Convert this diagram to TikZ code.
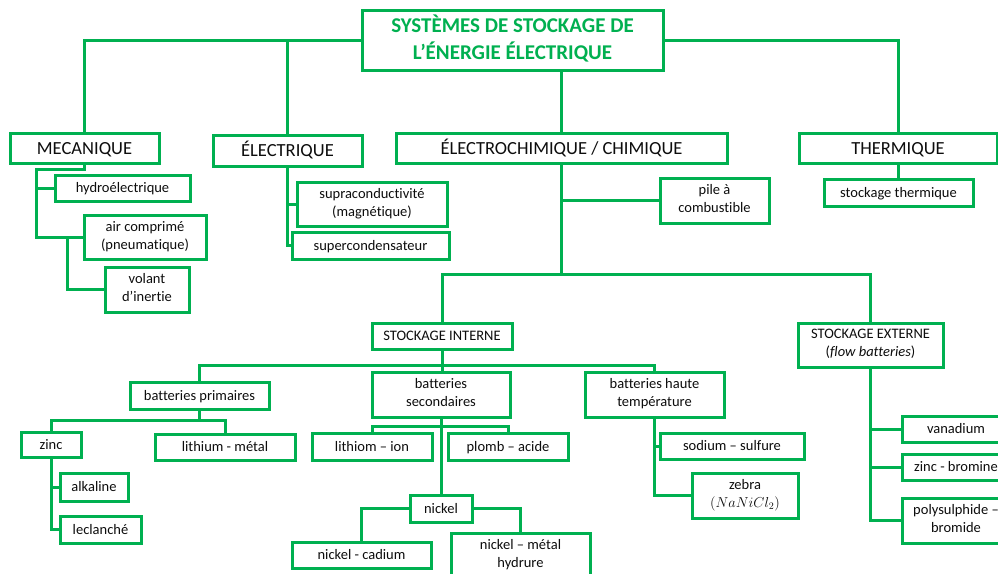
\documentclass[tikz,border=0pt]{standalone}
\usepackage{fontspec}
\setmainfont{Carlito}[RawFeature={-liga;-clig;-dlig}]
\usetikzlibrary{backgrounds}
\definecolor{gr}{HTML}{00B050}
\definecolor{tx}{HTML}{0D0D0D}
\newcommand\boxstrut{\vrule width 0pt height .95em depth .27em\relax}
\tikzset{
  lnk/.style={draw=gr, line width=3pt},
  box/.style={draw=gr, line width=3pt, fill=white, inner sep=0pt, align=center, text=tx,
    font=\fontsize{14.5}{18}\selectfont,
    execute at begin node={\boxstrut}, execute at end node={\boxstrut}},
  bigbox/.style={box, font=\fontsize{18.5}{22}\selectfont},
  titlebox/.style={box, text=gr, font=\fontsize{21}{27}\selectfont\bfseries}
}
\begin{document}
\begin{tikzpicture}[x=1pt,y=-1pt]
\useasboundingbox (0,0) rectangle (998,573);
\clip (0,0) rectangle (998,573);
\path
 node[titlebox, minimum width=301pt, minimum height=60pt] (title) at (512.5,40) {SYSTÈMES DE STOCKAGE DE\\L’ÉNERGIE ÉLECTRIQUE}
 node[bigbox, minimum width=149pt, minimum height=30pt] (mec) at (84.5,148) {MECANIQUE}
 node[bigbox, minimum width=149pt, minimum height=31pt] (elec) at (287.5,150.5) {ÉLECTRIQUE}
 node[bigbox, minimum width=331pt, minimum height=30pt] (echim) at (561.5,148) {ÉLECTROCHIMIQUE / CHIMIQUE}
 node[bigbox, minimum width=198pt, minimum height=30pt] (therm) at (898,148) {THERMIQUE}
 node[box, minimum width=135pt, minimum height=26pt] (hydro) at (122.5,188) {hydroélectrique}
 node[box, minimum width=122pt, minimum height=44pt] (air) at (145,237) {air comprimé\\(pneumatique)}
 node[box, minimum width=84pt, minimum height=45pt] (volant) at (147,289.5) {volant\\d’inertie}
 node[box, minimum width=150pt, minimum height=44pt] (supra) at (372,204) {supraconductivité\\(magnétique)}
 node[box, minimum width=157pt, minimum height=27pt] (supercond) at (370.5,245.5) {supercondensateur}
 node[box, minimum width=109pt, minimum height=45pt] (pile) at (714.5,200.5) {pile à\\combustible}
 node[box, minimum width=149pt, minimum height=27pt] (sthermique) at (898.5,192.5) {stockage thermique}
 node[box, minimum width=140pt, minimum height=26pt] (sint) at (442,336) {STOCKAGE INTERNE}
 node[box, minimum width=145pt, minimum height=44pt] (sext) at (870.5,345) {STOCKAGE EXTERNE\\(\textit{flow batteries})}
 node[box, minimum width=139pt, minimum height=27pt] (bprim) at (199.5,395.5) {batteries primaires}
 node[box, minimum width=138pt, minimum height=45pt] (bsec) at (441,394.5) {batteries\\secondaires}
 node[box, minimum width=139pt, minimum height=45pt] (bhaute) at (654.5,394.5) {batteries haute\\température}
 node[box, minimum width=60pt, minimum height=25pt] (zinc) at (51,444.5) {zinc}
 node[box, minimum width=140pt, minimum height=26pt] (lithm) at (225,447) {lithium - métal}
 node[box, minimum width=68pt, minimum height=28pt] (alk) at (94,487) {alkaline}
 node[box, minimum width=81pt, minimum height=27pt] (lecl) at (100.5,529.5) {leclanché}
 node[box, minimum width=120pt, minimum height=27pt] (lion) at (372,446.5) {lithiom – ion}
 node[box, minimum width=120pt, minimum height=27pt] (plomb) at (508,446.5) {plomb – acide}
 node[box, minimum width=62pt, minimum height=27pt] (nickel) at (441,508.5) {nickel}
 node[box, minimum width=139pt, minimum height=26pt] (ncad) at (361.5,555) {nickel - cadium}
 node[box, minimum width=139pt, minimum height=44pt] (nmh) at (520.5,555) {nickel – métal\\hydrure}
 node[box, minimum width=144pt, minimum height=26pt] (sodium) at (732,446) {sodium – sulfure}
 node[box, minimum width=106pt, minimum height=45pt] (zebra) at (745,495.5) {zebra\\$(NaNiCl_2)$}
 node[box, minimum width=108pt, minimum height=26pt] (vana) at (956,429) {vanadium}
 node[box, minimum width=108pt, minimum height=26pt] (znbr) at (956,467) {zinc - bromine}
 node[box, minimum width=108pt, minimum height=45pt] (poly) at (956,520.5) {polysulphide –\\bromide};
\coordinate (m1) at (36,169);
\coordinate (m2) at (67,237);
\coordinate (e1) at (561.5,274.5);
\coordinate (s1) at (442,365);
\coordinate (p1) at (199.5,420);
\coordinate (b1) at (441,426);
\begin{scope}[on background layer]
\draw[lnk] (title.west) -| (mec.north);
\draw[lnk] (title.west -| elec.north) -- (elec.north);
\draw[lnk] (title.east) -| (therm.north);
\draw[lnk] (echim.north |- title.south) -- (echim.north);
\draw[lnk] (mec.south) |- (m1) -- (m1 |- air.west) -- (air.west);
\draw[lnk] (m1 |- hydro.west) -- (hydro.west);
\draw[lnk] (m2) |- (volant.west);
\draw[lnk] (elec.south) -- (elec.south |- supercond.west) -- (supercond.west);
\draw[lnk] (elec.south |- supra.west) -- (supra.west);
\draw[lnk] (echim.south) -- (e1);
\draw[lnk] (echim.south |- pile.west) -- (pile.west);
\draw[lnk] (sint.north) |- (e1) -| (sext.north);
\draw[lnk] (therm.south) -- (therm.south |- sthermique.north);
\draw[lnk] (sint.south) -- (sint.south |- bsec.north);
\draw[lnk] (bprim.north) |- (s1) -| (bhaute.north);
\draw[lnk] (bprim.south) -- (p1);
\draw[lnk] (zinc.north) |- (p1) -| (lithm.north);
\draw[lnk] (zinc.south) |- (lecl.west);
\draw[lnk] (zinc.south |- alk.west) -- (alk.west);
\draw[lnk] (bsec.south) -- (nickel.north);
\draw[lnk] (lion.north) |- (b1) -| (plomb.north);
\draw[lnk] (nickel.west) -| (ncad.north);
\draw[lnk] (nickel.east) -| (nmh.north);
\draw[lnk] (bhaute.south) |- (zebra.west);
\draw[lnk] (bhaute.south |- sodium.west) -- (sodium.west);
\draw[lnk] (sext.south) |- (poly.west);
\draw[lnk] (sext.south |- vana.west) -- (vana.west);
\draw[lnk] (sext.south |- znbr.west) -- (znbr.west);
\end{scope}
\end{tikzpicture}
\end{document}
